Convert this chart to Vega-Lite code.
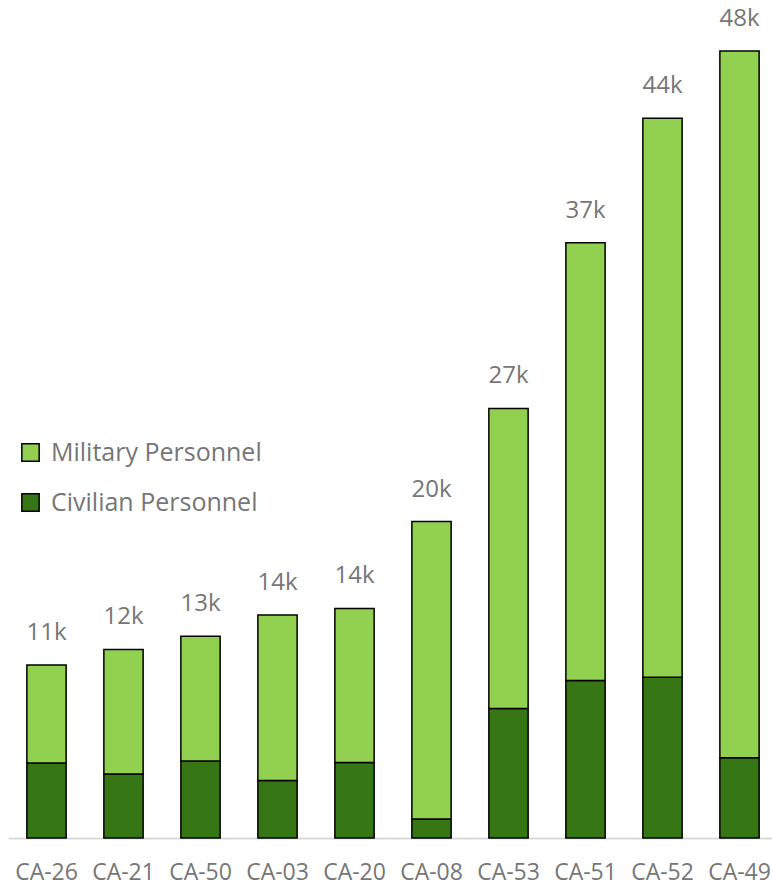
{
  "$schema": "https://vega.github.io/schema/vega-lite/v6.json",
  "autosize": "none",
  "width": 770,
  "height": 787,
  "padding": {"left": 8, "top": 51, "right": 0, "bottom": 48},
  "background": "white",
  "config": {
    "view": {"stroke": null},
    "font": "Open Sans"
  },
  "data": {
    "values": [
      {"district": "CA-26", "type": "Civilian Personnel", "value": 4570, "label": "11k"},
      {"district": "CA-26", "type": "Military Personnel", "value": 5980, "label": "11k"},
      {"district": "CA-21", "type": "Civilian Personnel", "value": 3900, "label": "12k"},
      {"district": "CA-21", "type": "Military Personnel", "value": 7600, "label": "12k"},
      {"district": "CA-50", "type": "Civilian Personnel", "value": 4700, "label": "13k"},
      {"district": "CA-50", "type": "Military Personnel", "value": 7600, "label": "13k"},
      {"district": "CA-03", "type": "Civilian Personnel", "value": 3500, "label": "14k"},
      {"district": "CA-03", "type": "Military Personnel", "value": 10100, "label": "14k"},
      {"district": "CA-20", "type": "Civilian Personnel", "value": 4600, "label": "14k"},
      {"district": "CA-20", "type": "Military Personnel", "value": 9400, "label": "14k"},
      {"district": "CA-08", "type": "Civilian Personnel", "value": 1160, "label": "20k"},
      {"district": "CA-08", "type": "Military Personnel", "value": 18140, "label": "20k"},
      {"district": "CA-53", "type": "Civilian Personnel", "value": 7900, "label": "27k"},
      {"district": "CA-53", "type": "Military Personnel", "value": 18300, "label": "27k"},
      {"district": "CA-51", "type": "Civilian Personnel", "value": 9600, "label": "37k"},
      {"district": "CA-51", "type": "Military Personnel", "value": 26700, "label": "37k"},
      {"district": "CA-52", "type": "Civilian Personnel", "value": 9800, "label": "44k"},
      {"district": "CA-52", "type": "Military Personnel", "value": 34100, "label": "44k"},
      {"district": "CA-49", "type": "Civilian Personnel", "value": 4900, "label": "48k"},
      {"district": "CA-49", "type": "Military Personnel", "value": 43100, "label": "48k"}
    ]
  },
  "encoding": {
    "x": {
      "field": "district",
      "type": "nominal",
      "sort": null,
      "scale": {"paddingInner": 0.49, "paddingOuter": 0.245},
      "axis": {
        "title": null,
        "labelAngle": 0,
        "ticks": false,
        "domainColor": "#d9d9d9",
        "domainWidth": 2,
        "labelFont": "Open Sans",
        "labelFontSize": 23,
        "labelColor": "#767676",
        "labelPadding": 23
      }
    }
  },
  "layer": [
    {
      "mark": {"type": "bar", "stroke": "black", "strokeWidth": 1.5},
      "encoding": {
        "y": {
          "field": "value",
          "type": "quantitative",
          "aggregate": "sum",
          "stack": "zero",
          "scale": {"domain": [0, 48000], "nice": false, "zero": true},
          "axis": null
        },
        "color": {
          "field": "type",
          "type": "nominal",
          "scale": {
            "domain": ["Military Personnel", "Civilian Personnel"],
            "range": ["#92d050", "#367614"]
          },
          "legend": {
            "title": null,
            "orient": "none",
            "legendX": 10,
            "legendY": 389,
            "symbolType": "square",
            "symbolSize": 300,
            "symbolStrokeColor": "black",
            "symbolStrokeWidth": 1.5,
            "symbolOpacity": 1,
            "labelFont": "Open Sans",
            "labelFontSize": 25,
            "labelColor": "#767676",
            "labelOffset": 8,
            "labelLimit": 0,
            "rowPadding": 24,
            "padding": 0
          }
        },
        "order": {"field": "type", "sort": "ascending"}
      }
    },
    {
      "mark": {
        "type": "text",
        "baseline": "alphabetic",
        "dy": -25,
        "font": "Open Sans",
        "fontSize": 24,
        "color": "#767676"
      },
      "encoding": {
        "y": {"field": "value", "type": "quantitative", "aggregate": "sum"},
        "text": {"field": "label", "type": "nominal"}
      }
    }
  ]
}
